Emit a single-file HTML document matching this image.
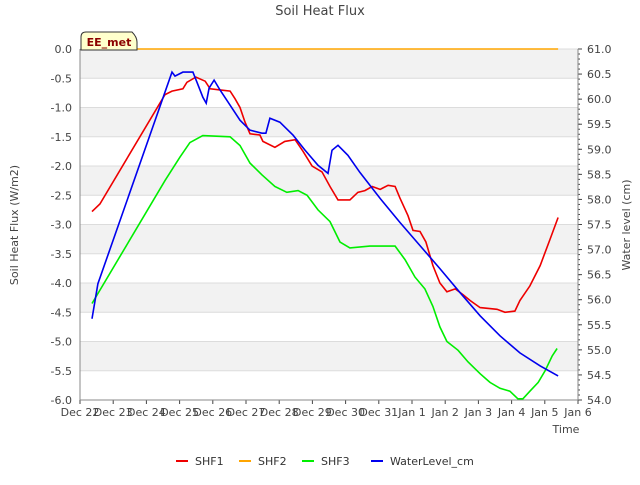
<!DOCTYPE html>
<html><head><meta charset="utf-8"><style>
body{margin:0;background:#fff;font-family:"Liberation Sans","DejaVu Sans",sans-serif}
svg text{font-family:"DejaVu Sans","Liberation Sans",sans-serif}
</style></head><body>
<svg id="c" width="640" height="480" xmlns="http://www.w3.org/2000/svg"></svg>
<script>
const xTickLabels=["Dec 22","Dec 23","Dec 24","Dec 25","Dec 26","Dec 27","Dec 28","Dec 29","Dec 30","Dec 31","Jan 1","Jan 2","Jan 3","Jan 4","Jan 5","Jan 6"];
const yLeftTicks=[0,-0.5,-1,-1.5,-2,-2.5,-3,-3.5,-4,-4.5,-5,-5.5,-6];
const yRightTicks=[61,60.5,60,59.5,59,58.5,58,57.5,57,56.5,56,55.5,55,54.5,54];
const shf1Days=[0.36,0.60,2.56,2.77,3.10,3.22,3.49,3.77,3.92,4.22,4.52,4.67,4.82,4.97,5.12,5.42,5.51,5.87,6.17,6.48,6.72,6.99,7.29,7.53,7.77,8.13,8.37,8.58,8.80,9.04,9.28,9.49,9.64,9.88,10.03,10.24,10.42,10.63,10.84,11.05,11.30,11.54,11.75,12.05,12.56,12.80,13.10,13.25,13.55,13.86,14.16,14.40];
const shf1Vals=[-2.78,-2.65,-0.78,-0.72,-0.68,-0.57,-0.48,-0.55,-0.68,-0.70,-0.72,-0.85,-1.0,-1.25,-1.45,-1.47,-1.58,-1.68,-1.58,-1.55,-1.75,-2.0,-2.1,-2.35,-2.58,-2.58,-2.45,-2.42,-2.35,-2.40,-2.33,-2.35,-2.55,-2.85,-3.1,-3.12,-3.3,-3.7,-4.0,-4.15,-4.1,-4.2,-4.3,-4.42,-4.45,-4.5,-4.48,-4.3,-4.05,-3.7,-3.25,-2.88];
const shf2Days=[0.36,14.40];
const shf2Vals=[0,0];
const shf3Days=[0.36,2.56,3.01,3.31,3.70,4.52,4.82,5.12,5.48,5.87,6.23,6.57,6.84,7.17,7.53,7.83,8.13,8.73,9.49,9.79,10.09,10.39,10.63,10.84,11.05,11.39,11.69,12.05,12.35,12.65,12.95,13.19,13.34,13.55,13.80,14.01,14.22,14.37];
const shf3Vals=[-4.35,-2.25,-1.85,-1.6,-1.48,-1.5,-1.65,-1.95,-2.15,-2.35,-2.45,-2.42,-2.5,-2.75,-2.95,-3.3,-3.4,-3.37,-3.37,-3.6,-3.9,-4.1,-4.4,-4.75,-5.0,-5.15,-5.35,-5.55,-5.7,-5.8,-5.85,-5.98,-5.98,-5.85,-5.7,-5.5,-5.25,-5.12];
const wlDays=[0.36,0.54,2.77,2.86,3.10,3.40,3.52,3.70,3.80,3.89,4.04,4.22,4.52,4.82,5.12,5.48,5.60,5.72,6.02,6.42,6.78,7.17,7.47,7.59,7.77,8.07,8.43,9.04,9.64,10.24,10.84,11.45,12.05,12.65,13.25,13.86,14.40];
const wlVals=[55.62,56.32,60.54,60.46,60.54,60.54,60.34,60.04,59.92,60.22,60.38,60.18,59.88,59.58,59.38,59.32,59.32,59.62,59.54,59.28,58.98,58.68,58.52,58.98,59.08,58.88,58.54,58.02,57.54,57.08,56.62,56.14,55.68,55.28,54.94,54.68,54.48];

const svg=document.getElementById('c');const NS='http://www.w3.org/2000/svg';
const L=80,R=578,T=49,B=400;
const xs=d=>L+(R-L)*d/15;
const yl=v=>T+(B-T)*(0-v)/6;
const yr=v=>T+(B-T)*(61-v)/7;
function mk(tag,at,txt){const e=document.createElementNS(NS,tag);for(const k in at)e.setAttribute(k,at[k]);if(txt!==undefined)e.textContent=txt;svg.appendChild(e);return e;}
let e;
e=mk('rect',{x:L,y:T,width:R-L,height:B-T,fill:'#fff'});


for(let i=0;i<12;i+=2){e=mk('rect',{x:L,y:yl(-i*0.5),width:R-L,height:yl(-0.5)-yl(0),fill:'#f2f2f2'});

}
yLeftTicks.forEach(v=>{e=mk('line',{x1:L,x2:R,y1:yl(v),y2:yl(v),stroke:'#dcdcdc','stroke-width':1});


e=mk('text',{x:L-8,y:yl(v)+4,'text-anchor':'end','font-size':11,fill:'#444'},v.toFixed(1));

});
yRightTicks.forEach(v=>{e=mk('text',{x:R+9,y:yr(v)+4,'font-size':11,fill:'#444'},v.toFixed(1));


mk('line',{x1:R,x2:R+4,y1:yr(v),y2:yr(v),stroke:'#444'});});
for(let v=54;v<=61.001;v+=0.1){mk('line',{x1:R,x2:R+2,y1:yr(v),y2:yr(v),stroke:'#444'});}
xTickLabels.forEach((t,i)=>{mk('line',{x1:xs(i),x2:xs(i),y1:B,y2:B+4,stroke:'#444'});
e=mk('text',{x:xs(i),y:B+16,'text-anchor':'middle','font-size':11,fill:'#444'},t);

});
mk('line',{x1:L,x2:L,y1:T,y2:B,stroke:'#888'});
mk('line',{x1:R,x2:R,y1:T,y2:B,stroke:'#888'});
mk('line',{x1:L,x2:R,y1:B,y2:B,stroke:'#888'});
function line(ds,vs,sc,col,name){const p=ds.map((d,i)=>xs(d).toFixed(1)+','+sc(vs[i]).toFixed(1)).join(' ');
e=mk('polyline',{points:p,fill:'none',stroke:col,'stroke-width':1.6});

}
line(shf2Days,shf2Vals,yl,'#ffa500','shf2-line');
line(shf3Days,shf3Vals,yl,'#00ee00','shf3-line');
line(shf1Days,shf1Vals,yl,'#ee0000','shf1-line');
line(wlDays,wlVals,yr,'#0000ee','waterlevel-line');
e=mk('text',{x:320,y:15,'text-anchor':'middle','font-size':13,fill:'#444'},'Soil Heat Flux');


e=mk('text',{x:18,y:225,'text-anchor':'middle','font-size':11,fill:'#444',transform:'rotate(-90 18 225)'},'Soil Heat Flux (W/m2)');


e=mk('text',{x:630,y:225,'text-anchor':'middle','font-size':11,fill:'#444',transform:'rotate(-90 630 225)'},'Water level (cm)');


e=mk('text',{x:566,y:433,'text-anchor':'middle','font-size':11,fill:'#444'},'Time');


e=mk('path',{d:'M81,50 L81,37 Q81,32 86,32 L132,32 Q137,37 137,42 L137,50 Z',fill:'#ffffcc',stroke:'#333'});


e=mk('text',{x:109,y:46,'text-anchor':'middle','font-size':11,'font-weight':'bold',fill:'#8b0000'},'EE_met');


const legNames=['SHF1','SHF2','SHF3','WaterLevel_cm'];const legCols=['#ee0000','#ffa500','#00ee00','#0000ee'];const legX=[176,239,302,371];
legNames.forEach((n,i)=>{mk('line',{x1:legX[i],x2:legX[i]+12,y1:461,y2:461,stroke:legCols[i],'stroke-width':2});
e=mk('text',{x:legX[i]+19,y:465,'font-size':11,fill:'#333'},n);

});
</script>
</body></html>
